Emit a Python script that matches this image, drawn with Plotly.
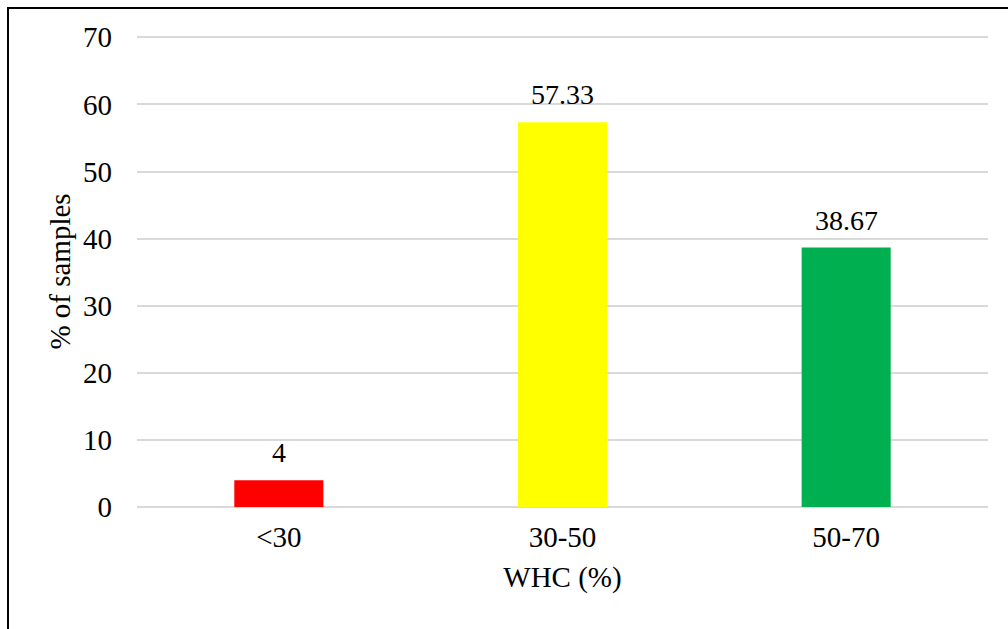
import plotly.graph_objects as go

# WHC class distribution
categories = ["<30", "30-50", "50-70"]
percent_samples = [4, 57.33, 38.67]
value_labels = ["4", "57.33", "38.67"]
bar_colors = ["#FF0000", "#FFFF00", "#00B050"]
y_ticks = [0, 10, 20, 30, 40, 50, 60, 70]

W, H = 1008, 629
ML, MR, MT, MB = 137, 20, 36, 122
PW, PH = W - ML - MR, H - MT - MB
FONT = "Liberation Serif, Times New Roman, serif"
FS = 29

fig = go.Figure()
fig.add_trace(go.Bar(
    x=categories,
    y=percent_samples,
    marker=dict(color=bar_colors, line=dict(width=0)),
    width=0.314,
    showlegend=False,
))

for cat, val, lab in zip(categories, percent_samples, value_labels):
    fig.add_annotation(
        x=cat, y=val, text=lab, showarrow=False,
        xanchor="center", yanchor="bottom", yshift=10,
        font=dict(family=FONT, size=FS - 1, color="#000000"),
    )

def px_x(p):
    return (p - ML) / PW

def px_y(p):
    return (H - MB - p) / PH

# outer frame (left and top edges visible)
fig.add_shape(
    type="rect", xref="paper", yref="paper",
    x0=px_x(8), x1=px_x(W + 20), y0=px_y(H + 20), y1=px_y(8),
    line=dict(color="#000000", width=2), fillcolor="rgba(0,0,0,0)",
    layer="above",
)

fig.update_layout(
    width=W, height=H,
    margin=dict(l=ML, r=MR, t=MT, b=MB),
    paper_bgcolor="white",
    plot_bgcolor="white",
    font=dict(family=FONT, size=FS, color="#000000"),
    xaxis=dict(
        title=dict(text="WHC (%)", font=dict(family=FONT, size=FS), standoff=14),
        showgrid=False, showline=False, zeroline=False,
        ticks="", ticklabelstandoff=10, tickfont=dict(family=FONT, size=FS),
    ),
    yaxis=dict(
        title=dict(text="% of samples", font=dict(family=FONT, size=FS), standoff=3),
        range=[0, 70.2], tickvals=y_ticks,
        showgrid=True, gridcolor="#D9D9D9", gridwidth=1.5,
        zeroline=True, zerolinecolor="#D9D9D9", zerolinewidth=1.5,
        showline=False, ticks="", ticklabelstandoff=24,
        tickfont=dict(family=FONT, size=FS),
    ),
)

fig.write_html("out.html")
